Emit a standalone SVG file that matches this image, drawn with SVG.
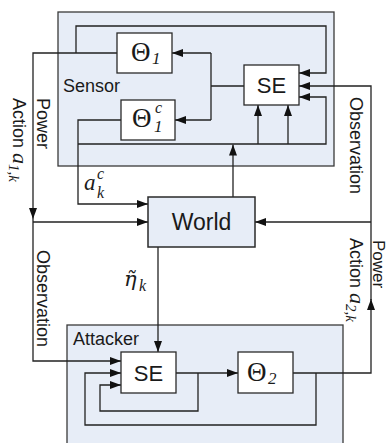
<svg xmlns="http://www.w3.org/2000/svg" width="390" height="443" viewBox="0 0 390 443">
<style>
.cont{fill:#e7edf7;stroke:#3a3a3a;stroke-width:1.3}
.box{fill:#ffffff;stroke:#2a2a2a;stroke-width:1.3}
.wbox{fill:#e7edf7;stroke:#2a2a2a;stroke-width:1.5}
.ln{fill:none;stroke:#222;stroke-width:1.3}
.sans{font-family:"Liberation Sans",Arial,sans-serif;fill:#1a1a1a}
.lbl{font-size:18px}
.big{font-size:23px}
.th{font-family:"Liberation Serif","DejaVu Serif",serif;font-size:27px;fill:#1a1a1a}
.mi{font-family:"Liberation Serif","DejaVu Serif",serif;font-style:italic;fill:#1a1a1a}
</style>
<defs>
<marker id="ar" markerUnits="userSpaceOnUse" markerWidth="11" markerHeight="8" refX="11" refY="4" orient="auto">
<path d="M0,0 L11,4 L0,8 z" fill="#111"/>
</marker>
</defs>
<rect width="390" height="443" fill="#ffffff"/>
<g id="sensor">
<rect class="cont" x="58" y="12" width="276" height="154"/>
<text class="sans lbl" x="63" y="92">Sensor</text>
</g>
<g id="attacker">
<rect class="cont" x="67" y="325" width="276" height="130"/>
<text class="sans lbl" x="73" y="345">Attacker</text>
</g>
<g id="connectors">
<path class="ln" d="M244,86 H211 M211,53 V120"/>
<path class="ln" d="M211,53 H172" marker-end="url(#ar)"/>
<path class="ln" d="M211,120 H175" marker-end="url(#ar)"/>
<path class="ln" d="M117,53 H33 V219" marker-end="url(#ar)"/>
<path class="ln" d="M76,53 V26 H326 V73 H299" marker-end="url(#ar)"/>
<path class="ln" d="M33,222 H148" marker-end="url(#ar)"/>
<path class="ln" d="M33,219 V361 H121" marker-end="url(#ar)"/>
<path class="ln" d="M121,120 H78 V204 H148" marker-end="url(#ar)"/>
<path class="ln" d="M78,144 H326 V97 H299" marker-end="url(#ar)"/>
<path class="ln" d="M258,144 V105" marker-end="url(#ar)"/>
<path class="ln" d="M288,144 V105" marker-end="url(#ar)"/>
<path class="ln" d="M233,197 V144.5" marker-end="url(#ar)"/>
<path class="ln" d="M371,300 V86 H299" marker-end="url(#ar)"/>
<path class="ln" d="M371,222 H255" marker-end="url(#ar)"/>
<path class="ln" d="M293,373 H371 V299" marker-end="url(#ar)"/>
<path class="ln" d="M158,247 V352" marker-end="url(#ar)"/>
<path class="ln" d="M176,373 H238" marker-end="url(#ar)"/>
<path class="ln" d="M198,373 V411 H100 V385 H121" marker-end="url(#ar)"/>
<path class="ln" d="M316,373 V425 H85 V373 H121" marker-end="url(#ar)"/>
</g>
<g id="theta1">
<rect class="box" x="117" y="33" width="55" height="40"/>
<text class="th" x="131" y="61">Θ</text>
<text class="mi" font-size="17" x="152" y="64">1</text>
</g>
<g id="theta1c">
<rect class="box" x="121" y="100" width="54" height="40"/>
<text class="th" x="132" y="127">Θ</text>
<text class="mi" font-size="16" x="155" y="113">c</text>
<text class="mi" font-size="17" x="154" y="132">1</text>
</g>
<g id="se1">
<rect class="box" x="244" y="65" width="55" height="40"/>
<text class="sans" font-size="22" x="271.5" y="93" text-anchor="middle">SE</text>
</g>
<g id="world">
<rect class="wbox" x="148" y="197" width="107" height="50"/>
<text class="sans big" x="201.5" y="230" text-anchor="middle">World</text>
</g>
<g id="se2">
<rect class="box" x="121" y="352" width="55" height="41"/>
<text class="sans" font-size="22" x="148.5" y="380.5" text-anchor="middle">SE</text>
</g>
<g id="theta2">
<rect class="box" x="238" y="352" width="55" height="41"/>
<text class="th" x="247" y="381">Θ</text>
<text class="mi" font-size="17" x="268" y="384">2</text>
</g>
<g id="labels">
<text class="sans lbl" transform="translate(37,98) rotate(90)">Power</text>
<text class="sans lbl" transform="translate(13,98) rotate(90)">Action <tspan class="mi" font-size="22">a</tspan><tspan class="mi" font-size="15" dy="4">1,k</tspan></text>
<text class="sans lbl" transform="translate(350,97) rotate(90)">Observation</text>
<text class="sans" font-size="17" transform="translate(373,240) rotate(90)">Power</text>
<text class="sans lbl" transform="translate(350,238) rotate(90)">Action <tspan class="mi" font-size="22">a</tspan><tspan class="mi" font-size="15" dy="4">2,k</tspan></text>
<text class="sans lbl" transform="translate(37,250) rotate(90)">Observation</text>
<text class="mi" font-size="23" x="84" y="190">a<tspan font-size="16" x="97" y="179">c</tspan><tspan font-size="16" x="97" y="198">k</tspan></text>
<text font-family="DejaVu Serif,serif" font-style="italic" font-size="21" fill="#1a1a1a" x="124" y="286">η̃<tspan font-family="Liberation Serif,serif" font-size="16" x="139" y="291">k</tspan></text>
</g>
</svg>
